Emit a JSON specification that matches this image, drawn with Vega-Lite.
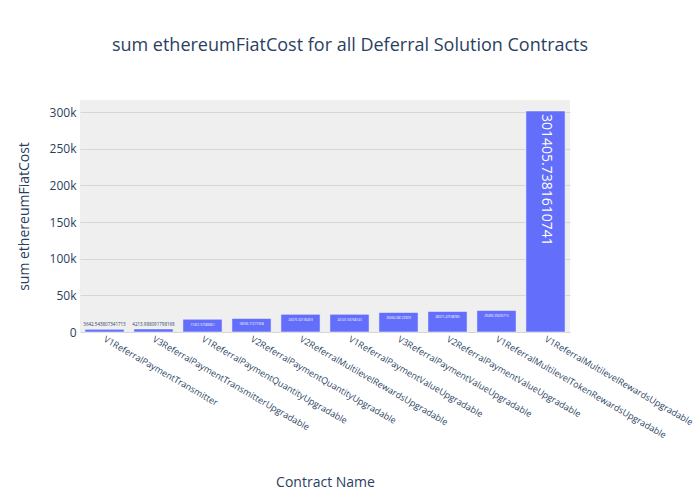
{
  "$schema": "https://vega.github.io/schema/vega-lite/v6.json",
  "autosize": {"type": "none"},
  "width": 490,
  "height": 232,
  "padding": {"left": 80, "top": 100, "right": 130, "bottom": 168},
  "background": "white",
  "title": {"text": "sum ethereumFiatCost for all Deferral Solution Contracts", "fontSize": 18, "font": "Open Sans", "fontWeight": "normal", "color": "#2a3f5f", "anchor": "middle", "dx": 25, "offset": 45},
  "data": {"values": [
    {"contract": "V1ReferralPaymentTransmitter", "cost": 3642.543807341713},
    {"contract": "V3ReferralPaymentTransmitterUpgradable", "cost": 4213.988091798168},
    {"contract": "V1ReferralPaymentQuantityUpgradable", "cost": 17451.57383661},
    {"contract": "V2ReferralPaymentQuantityUpgradable", "cost": 18556.71271358},
    {"contract": "V2ReferralMultilevelRewardsUpgradable", "cost": 24075.32136459},
    {"contract": "V1ReferralPaymentValueUpgradable", "cost": 24141.50768143},
    {"contract": "V3ReferralPaymentValueUpgradable", "cost": 26664.08122309},
    {"contract": "V2ReferralPaymentValueUpgradable", "cost": 28071.47598785},
    {"contract": "V1ReferralMultilevelTokenRewardsUpgradable", "cost": 29490.29435715},
    {"contract": "V1ReferralMultilevelRewardsUpgradable", "cost": 301405.7381610741}
  ]},
  "encoding": {
    "x": {"field": "contract", "type": "nominal", "sort": null,
      "scale": {"paddingInner": 0.2, "paddingOuter": 0.1},
      "axis": {"title": "Contract Name", "labelAngle": 30, "labelAlign": "left", "labelBaseline": "middle", "labelFontSize": 9, "labelLimit": 0, "labelColor": "#2a3f5f", "labelFont": "Open Sans", "ticks": false, "domain": false, "labelPadding": 6, "titleFontSize": 14, "titleFont": "Open Sans", "titleFontWeight": "normal", "titleColor": "#2a3f5f", "titlePadding": 36, "labelOverlap": false}},
    "y": {"field": "cost", "type": "quantitative",
      "scale": {"domain": [0, 316400], "nice": false},
      "axis": {"title": "sum ethereumFiatCost", "labelExpr": "datum.value == 0 ? '0' : format(datum.value, '~s')", "values": [0, 50000, 100000, 150000, 200000, 250000, 300000], "labelFontSize": 12, "labelColor": "#2a3f5f", "labelFont": "Open Sans", "ticks": false, "domain": false, "labelPadding": 4, "gridColor": "#d6d6d6", "titleFontSize": 14, "titleFont": "Open Sans", "titleFontWeight": "normal", "titleColor": "#2a3f5f", "titlePadding": 18}}
  },
  "layer": [
    {"mark": {"type": "bar", "color": "#636efa", "stroke": "#ffffff", "strokeWidth": 0.5}},
    {"transform": [{"filter": "datum.cost < 10000"}],
      "mark": {"type": "text", "fontSize": 4.5, "color": "#2a3f5f", "baseline": "bottom", "dy": -2, "font": "Open Sans"},
      "encoding": {"text": {"field": "cost", "type": "nominal"}}},
    {"transform": [{"filter": "datum.cost >= 10000 && datum.cost < 100000"}],
      "mark": {"type": "text", "fontSize": 3.2, "color": "white", "baseline": "top", "dy": 4, "font": "Open Sans"},
      "encoding": {"text": {"field": "cost", "type": "nominal"}}},
    {"transform": [{"filter": "datum.cost >= 100000"}],
      "mark": {"type": "text", "fontSize": 14, "color": "white", "angle": 90, "align": "left", "baseline": "middle", "dx": 3, "font": "Open Sans"},
      "encoding": {"text": {"field": "cost", "type": "nominal"}}}
  ],
  "config": {"view": {"fill": "#efefef", "stroke": null}}
}
